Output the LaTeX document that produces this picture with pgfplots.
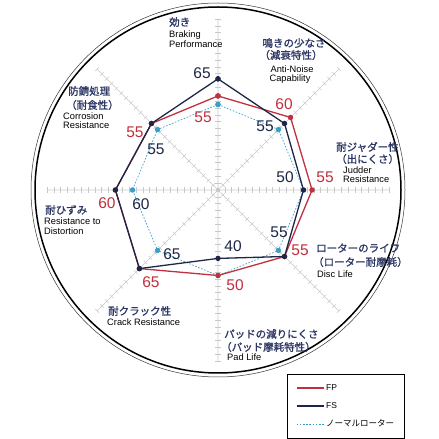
\documentclass[border=0pt]{standalone}
\usepackage{fontspec}
\setmainfont{Liberation Sans}
\newfontfamily\jp[FakeBold=1.2]{Noto Sans CJK JP}
\newfontfamily\jpl{Noto Sans CJK JP}
\usepackage{pgfplots}
\pgfplotsset{compat=1.18}
\usepgfplotslibrary{polar}

\definecolor{fpred}{RGB}{192,48,62}
\definecolor{fsnavy}{RGB}{30,38,72}
\definecolor{nblue}{RGB}{58,158,200}
\definecolor{jpnavy}{RGB}{44,54,100}
\definecolor{spoke}{RGB}{200,200,200}

\newcommand\J{\jp\color{jpnavy}\fontsize{10.5}{12}\selectfont}
\newcommand\E{\fontsize{9.3}{10}\selectfont}
\newcommand\N{\fontsize{15.5}{16}\selectfont}

\begin{document}
\begin{tikzpicture}
\useasboundingbox (0pt,0pt) rectangle (439pt,439pt);
% picture coordinates: x right, y down, in px
\begin{scope}[x=1pt,y=-1pt,yshift=439pt]
  \foreach \a in {0,45,...,315}{
    \begin{scope}[shift={(218,190)},rotate=\a]
      \foreach \k in {1,...,25}
        \draw[spoke,line width=0.5pt] (\k*6.84,-2.6) -- (\k*6.84,2.6);
    \end{scope}
  }
  \fill[spoke] (218,190) circle (2.2);
\end{scope}

\begin{polaraxis}[
  at={(218pt,249pt)}, anchor=origin,
  width=342pt, height=342pt, scale only axis,
  ymin=0, ymax=100,
  xtick={0,45,...,315},
  xticklabel style={opacity=0},
  ytick=\empty,
  xmajorgrids, ymajorgrids=false,
  major grid style={spoke,line width=0.6pt},
  axis line style={draw=none},
  major tick length=0pt,
  clip=false,
  legend style={at={(axis description cs:0.702,-0.038)}, anchor=north west,
    draw=black, line width=0.6pt, fill=white,
    font=\fontsize{8.5}{10}\selectfont,
    inner xsep=8.5pt, inner ysep=8pt, row sep=6.5pt},
  legend cell align=left,
  legend image code/.code={\draw[#1] (0pt,0pt) -- (27pt,0pt);},
]
% normal rotor
\addplot[nblue, line width=0.7pt, dash pattern=on 1.6pt off 1.6pt,
  mark=*, mark size=2.3pt, mark options={solid,fill=nblue,draw=nblue}, forget plot]
  coordinates {(90,50) (45,50) (0,50) (315,50) (270,50) (225,50) (180,50) (135,50) (90,50)};
% FP
\addplot[fpred, line width=1.3pt, mark=*, mark size=2pt, mark options={fill=fpred}]
  coordinates {(90,55) (45,60) (0,55) (315,55) (270,50) (225,65) (180,60) (135,55) (90,55)};
\addlegendentry{FP}
% FS
\addplot[fsnavy, line width=1.3pt, mark=*, mark size=2pt, mark options={fill=fsnavy}]
  coordinates {(90,65) (45,55) (0,50) (315,55) (270,40) (225,65) (180,60) (135,55) (90,65)};
\addlegendentry{FS}
\addlegendimage{nblue, line width=0.7pt, dash pattern=on 1.6pt off 1.6pt}
\addlegendentry{{\jpl ノーマルローター}}
\end{polaraxis}

\begin{scope}[x=1pt,y=-1pt,yshift=439pt]
  \draw[line width=1.5pt] (218,190) circle (183);
  \draw[line width=0.5pt,black!80] (218,190) circle (187);

  % axis titles
  \begin{scope}[every node/.style={inner sep=0pt,anchor=west}]
    \node at (169,22) {\J 効き};
    \node at (169,35) {\E Braking};
    \node at (169,44) {\E Performance};

    \node[anchor=center] at (294,43) {\J 鳴きの少なさ};
    \node[anchor=center] at (291,55) {\J （減衰特性）};
    \node[anchor=center] at (292,69) {\E Anti-Noise};
    \node[anchor=center] at (290,79) {\E Capability};

    \node at (336,147) {\J 耐ジャダー性};
    \node at (336,159) {\J （出にくさ）};
    \node at (343,170) {\E Judder};
    \node at (343,179) {\E Resistance};

    \node at (316,248) {\J ローターのライフ};
    \node at (313,262) {\J （ローター耐摩耗）};
    \node at (317,274) {\E Disc Life};

    \node at (224,334) {\J パッドの減りにくさ};
    \node at (221,347) {\J （パッド摩耗特性）};
    \node at (227,357) {\E Pad Life};

    \node at (108,311) {\J 耐クラック性};
    \node at (107,322) {\E Crack Resistance};

    \node at (45,210) {\J 耐ひずみ};
    \node at (44,221) {\E Resistance to};
    \node at (44,231) {\E Distortion};

    \node at (68,91) {\J 防錆処理};
    \node at (66,105) {\J （耐食性）};
    \node at (63,116) {\E Corrosion};
    \node at (63,125) {\E Resistance};
  \end{scope}

  % value labels
  \begin{scope}[every node/.style={inner sep=0pt,font=\N}]
    \node[fpred] at (203,117) {55};
    \node[fpred] at (284,104) {60};
    \node[fpred] at (325,177) {55};
    \node[fpred] at (300,250) {55};
    \node[fpred] at (235,285) {50};
    \node[fpred] at (151,282) {65};
    \node[fpred] at (107,203) {60};
    \node[fpred] at (135,132) {55};

    \node[fsnavy] at (202,73) {65};
    \node[fsnavy] at (265,126) {55};
    \node[fsnavy] at (285,177) {50};
    \node[fsnavy] at (279,232) {55};
    \node[fsnavy] at (233,246) {40};
    \node[fsnavy] at (172,254) {65};
    \node[fsnavy] at (141,204) {60};
    \node[fsnavy] at (156,149) {55};
  \end{scope}
\end{scope}
\end{tikzpicture}
\end{document}
